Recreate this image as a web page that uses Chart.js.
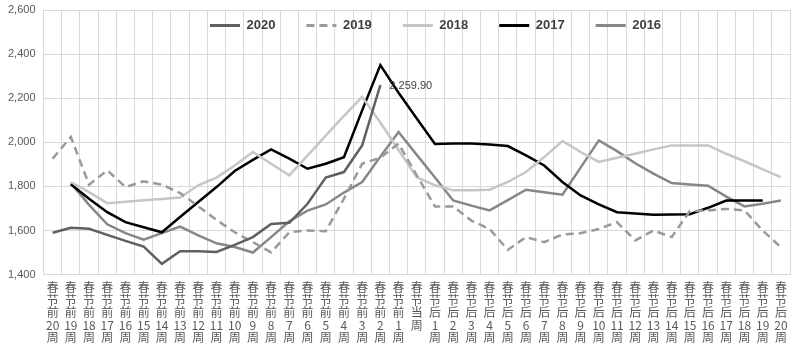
<!DOCTYPE html>
<html>
<head>
<meta charset="utf-8">
<script src="https://cdn.jsdelivr.net/npm/chart.js@4.4.1/dist/chart.umd.min.js"></script>
<style>
  html, body { margin: 0; padding: 0; background: #fff; }
  #wrap { width: 800px; height: 351px; }
</style>
</head>
<body>
<div id="wrap"><canvas id="chart" width="800" height="351"></canvas></div>
<script>
/* ── data ── */
const weeks = [
  '春节前20周','春节前19周','春节前18周','春节前17周','春节前16周','春节前15周','春节前14周',
  '春节前13周','春节前12周','春节前11周','春节前10周','春节前9周','春节前8周','春节前7周',
  '春节前6周','春节前5周','春节前4周','春节前3周','春节前2周','春节前1周','春节当周',
  '春节后1周','春节后2周','春节后3周','春节后4周','春节后5周','春节后6周','春节后7周',
  '春节后8周','春节后9周','春节后10周','春节后11周','春节后12周','春节后13周','春节后14周',
  '春节后15周','春节后16周','春节后17周','春节后18周','春节后19周','春节后20周'
];

const y2020 = [1590,1612,1608,1580,1553,1527,1449,1506,1506,1503,1535,1570,1630,1635,1721,1840,1865,1986,2259.9,
  null,null,null,null,null,null,null,null,null,null,null,null,null,null,null,null,null,null,null,null,null,null];
const y2019 = [1926,2024,1808,1873,1797,1823,1808,1770,1710,1648,1592,1547,1501,1592,1600,1597,1744,1903,1930,1994,1850,
  1709,1709,1645,1607,1512,1570,1547,1582,1588,1607,1638,1555,1600,1570,1688,1691,1698,1691,1600,1524];
const y2018 = [null,1820,1774,1724,1730,1737,1743,1750,1805,1840,1895,1956,1903,1850,1940,2030,2120,2206,2090,1965,1842,
  1805,1782,1782,1785,1820,1865,1933,2006,1956,1911,1930,1948,1968,1986,1986,1986,1948,1914,1877,1842];
const y2017 = [null,1810,1744,1683,1638,1615,1592,1661,1729,1797,1870,1920,1968,1926,1880,1903,1932,2145,2350,2225,2108,
  1992,1994,1994,1990,1983,1941,1895,1820,1759,1718,1683,1677,1671,1673,1674,1703,1736,1736,1736,null];
const y2016 = [null,1815,1716,1628,1588,1558,1588,1618,1578,1542,1525,1500,1570,1642,1690,1718,1772,1820,1935,2047,1943,
  1840,1736,1713,1691,1738,1785,1773,1762,1885,2009,1960,1905,1858,1815,1809,1803,1754,1709,1721,1736];

const seriesNames = ['2020','2019','2018','2017','2016'];

/* ── style ── */
const GRID = '#d9d9d9';
const TXT  = '#595959';

function lineDataset(label, data, color, dash) {
  return {
    label,
    data,
    borderColor: color,
    backgroundColor: color,
    borderWidth: 2.5,
    borderDash: dash || [],
    pointRadius: 0,
    pointHoverRadius: 0,
    tension: 0,
    spanGaps: false,
  };
}

// stack the characters, keep digit runs together
const stacked = s => s.match(/\d+|./g);

/* legend takes no room in the layout and sits inside the plot, like the original */
const legendPlace = {
  id: 'legendPlace',
  beforeLayout(chart) {
    const lg = chart.legend;
    if (lg && !lg._flat) {
      const fit = lg.fit;
      lg.fit = function () { fit.call(this); this._fullH = this.height; this.height = 0; };
      lg._flat = true;
    }
  },
  afterLayout(chart) {
    const lg = chart.legend;
    const pad = lg.options.labels.padding;
    const w = lg.right - lg.left;
    lg.left = 210 - pad;
    lg.right = lg.left + w;
    lg.top = 26 - pad - 7;
    lg.bottom = lg.top + (lg._fullH || 80);
  }
};

/* value label on the last 2020 point */
const lastLabel = {
  id: 'lastLabel',
  afterDatasetsDraw(chart) {
    const meta = chart.getDatasetMeta(0);
    let idx = -1;
    y2020.forEach((v, i) => { if (v !== null) idx = i; });
    const pt = meta.data[idx];
    if (!pt) return;
    const ctx = chart.ctx;
    ctx.save();
    ctx.font = '11px "Liberation Sans", sans-serif';
    ctx.fillStyle = '#404040';
    ctx.textBaseline = 'middle';
    ctx.fillText(y2020[idx].toLocaleString('en-US', { minimumFractionDigits: 2 }), pt.x + 9, pt.y + 1);
    ctx.restore();
  }
};

new Chart(document.getElementById('chart'), {
  type: 'line',
  data: {
    labels: weeks.map(stacked),
    datasets: [
      lineDataset(seriesNames[0], y2020, '#606060'),
      lineDataset(seriesNames[1], y2019, '#9a9a9a', [8, 5]),
      lineDataset(seriesNames[2], y2018, '#c6c6c6'),
      lineDataset(seriesNames[3], y2017, '#000000'),
      lineDataset(seriesNames[4], y2016, '#878787'),
    ]
  },
  options: {
    responsive: false,
    animation: false,
    layout: { padding: { top: 10, right: 10, left: 0, bottom: 0 } },
    plugins: {
      legend: {
        position: 'top',
        align: 'start',
        labels: {
          usePointStyle: true,
          pointStyle: 'line',
          pointStyleWidth: 30,
          padding: 31,
          color: '#404040',
          font: { family: '"Liberation Sans", sans-serif', size: 13, weight: 'bold' },
          generateLabels(chart) {
            const items = Chart.defaults.plugins.legend.labels.generateLabels(chart);
            items.forEach(it => {
              const ds = chart.data.datasets[it.datasetIndex];
              it.lineDash = ds.borderDash;
              it.lineWidth = 3;
            });
            return items;
          }
        }
      },
      tooltip: { enabled: false }
    },
    scales: {
      x: {
        offset: true,
        grid: { color: GRID, offset: true, drawTicks: false },
        border: { color: GRID },
        ticks: {
          color: TXT,
          autoSkip: false,
          maxRotation: 0,
          minRotation: 0,
          padding: 7,
          font: { family: '"Noto Sans CJK SC", sans-serif', size: 12, lineHeight: 1.04 },
        }
      },
      y: {
        min: 1400,
        max: 2600,
        afterFit(scale) { scale.paddingTop = 0; },
        grid: { color: GRID, drawTicks: false },
        border: { color: GRID },
        ticks: {
          stepSize: 200,
          color: TXT,
          padding: 8,
          font: { family: '"Liberation Sans", sans-serif', size: 11 },
          callback: v => v.toLocaleString('en-US')
        }
      }
    }
  },
  plugins: [legendPlace, lastLabel]
});
</script>
</body>
</html>
